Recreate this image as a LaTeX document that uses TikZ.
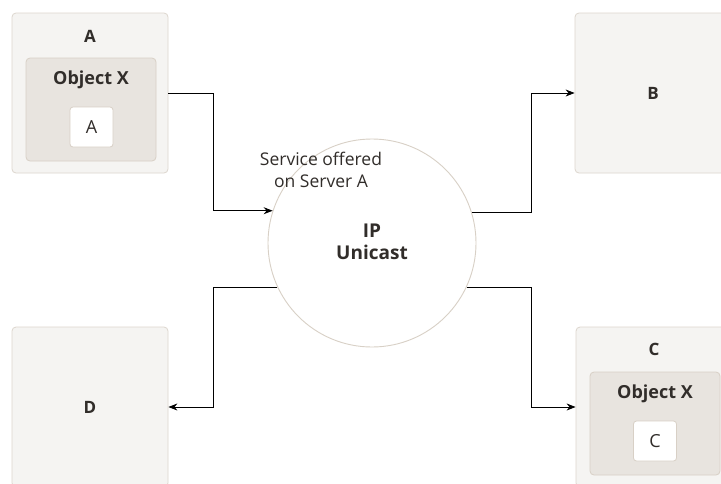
\documentclass[tikz,border=0pt]{standalone}
\usepackage{fontspec}
\setmainfont{Open Sans}
\usetikzlibrary{arrows.meta}
\definecolor{outerfill}{HTML}{F5F4F2}
\definecolor{outerline}{HTML}{DDD6CE}
\definecolor{innerfill}{HTML}{E8E4DF}
\definecolor{innerline}{HTML}{D8D0C6}
\definecolor{txt}{HTML}{312D2A}
\tikzset{
  outerbox/.style={draw=outerline, fill=outerfill, rounded corners=4pt, line width=0.8pt, minimum width=156pt, minimum height=160pt, inner sep=0pt},
  innerbox/.style={draw=innerline, fill=innerfill, rounded corners=4pt, line width=0.8pt, minimum width=130pt, minimum height=103pt, inner sep=0pt},
  whitebox/.style={draw=innerline, fill=white, rounded corners=3pt, line width=0.8pt, minimum width=43pt, minimum height=40pt, inner sep=0pt, text=txt, font=\fontsize{18}{20}\selectfont},
  title/.style={text=txt, font=\fontsize{17}{20}\selectfont\bfseries, inner sep=0pt},
  objlabel/.style={text=txt, font=\fontsize{18}{20}\selectfont\bfseries, inner sep=0pt},
  arr/.style={draw=black, line width=0.9pt, -{Stealth[length=9pt,width=7pt]}},
}
\begin{document}
\begin{tikzpicture}[x=1pt,y=-1pt]
\clip (0,0) rectangle (721,483);
\fill[white] (0,0) rectangle (721,483);
% A
\node[outerbox] (A) at (90,93) {};
\node[title] (At) at (90,36) {A};
\node[innerbox] (Ao) at (91,109.5) {};
\node[objlabel] (Aol) at (91,80) {Object X};
\node[whitebox] (Aw) at (91.5,127) {A};
% B
\node[outerbox] (B) at (653,93) {};
\node[title] (Bt) at (653,93) {B};
% C
\node[outerbox] (C) at (654,407) {};
\node[title] (Ct) at (654,349) {C};
\node[innerbox] (Co) at (655,423.5) {};
\node[objlabel] (Col) at (655,394) {Object X};
\node[whitebox] (Cw) at (655,441) {C};
% D
\node[outerbox] (D) at (90,407) {};
\node[title] (Dt) at (90,407) {D};
% circle
\node[circle, draw=innerline, fill=white, line width=0.9pt, minimum size=208pt, inner sep=0pt] (circ) at (372,243) {};
\node[text=txt, font=\fontsize{19}{22}\selectfont\bfseries, align=center, inner sep=0pt] (ipu) at (372,242) {IP\\Unicast};
\node[text=txt, font=\fontsize{17.5}{22}\selectfont, align=center, inner sep=0pt] (svc) at (321,170) {Service offered\\on Server A};
% connectors
\coordinate (k1) at (213,93);
\coordinate (k2) at (531,93);
\coordinate (k3) at (213,407);
\coordinate (k4) at (531,407);
\draw[arr] (A.east) -- (k1) |- (circ.162.6);
\draw[arr] (circ.17.4) -| (k2) -- (B.west);
\draw[arr] (circ.205.6) -| (k3) -- (D.east);
\draw[arr] (circ.-25.6) -| (k4) -- (C.west);
\end{tikzpicture}
\end{document}
